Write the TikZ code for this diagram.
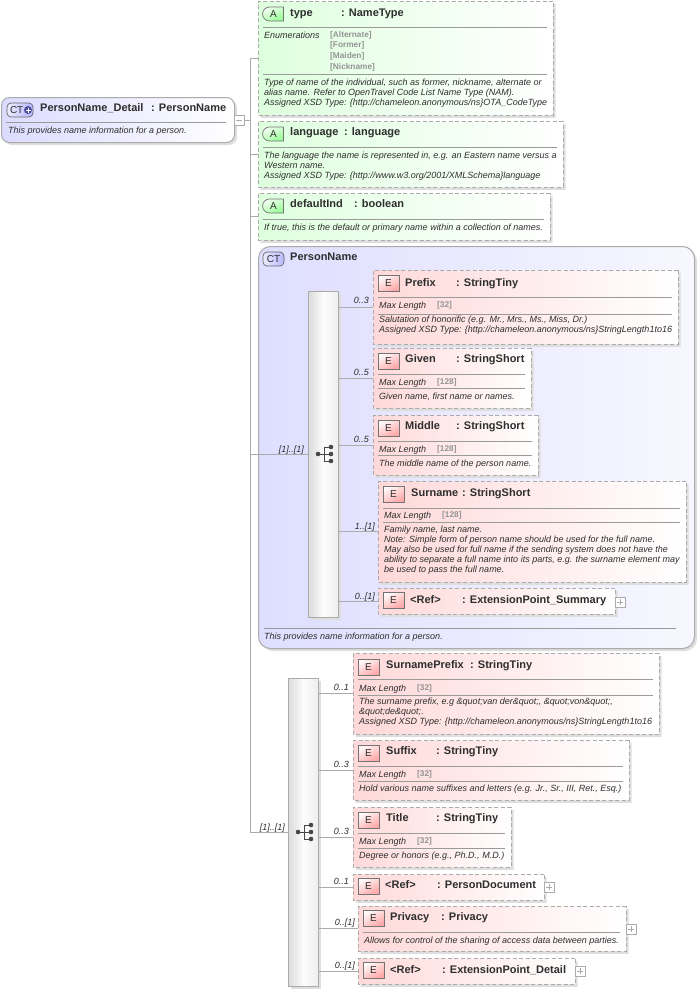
\documentclass[tikz,border=0pt]{standalone}
\usepackage{fontspec}
\setmainfont{Liberation Sans}
\usetikzlibrary{shapes.misc,shadows}
\definecolor{dk}{HTML}{2E2E2E}
\definecolor{gr}{HTML}{ABABAB}
\definecolor{sp}{HTML}{9A9A9A}
\newcounter{tn}
\tikzset{
  softshadow/.style={general shadow={shadow xshift=2.5pt,shadow yshift=-2.5pt,fill=black!13}},
  chbox/.style={chamfered rectangle,chamfered rectangle xsep=3pt,chamfered rectangle ysep=3pt,draw=gr,line width=1pt,dash pattern=on 4pt off 2.5pt,inner sep=0pt,anchor=north west,softshadow},
  elembox/.style={chbox,left color=red!15,right color=white},
  attrbox/.style={chbox,left color=green!13,right color=white},
  rootbox/.style={rectangle,rounded corners=8pt,draw=gr,line width=1pt,inner sep=0pt,anchor=north west,left color=blue!14,right color=white,softshadow},
  ctbox/.style={rectangle,rounded corners=12pt,draw=gr,line width=1pt,inner sep=0pt,anchor=north west,left color=blue!13,right color=blue!3,softshadow},
  seqbox/.style={rectangle,draw=gr,line width=.7pt,inner sep=0pt,anchor=north west,left color=black!14,right color=black!7,middle color=black!1,softshadow},
  exbox/.style={rectangle,draw=gr,fill=white,line width=.7pt,minimum width=9.5pt,minimum height=9.5pt,inner sep=0pt,anchor=north west},
  eicon/.style={rectangle,draw=black!55,line width=.7pt,minimum width=21pt,minimum height=16pt,inner sep=0pt,bottom color=red!34,top color=red!2,shading angle=30,text=dk,font=\fontsize{10}{10}\selectfont},
  aicon/.style={rounded rectangle,rounded rectangle east arc=none,draw=black!55,line width=.7pt,minimum width=21pt,minimum height=14pt,inner sep=0pt,bottom color=green!40,top color=green!5,shading angle=30,text=dk,font=\fontsize{10}{10}\selectfont},
  cticon/.style={rectangle,rounded corners=4pt,draw=black!60,line width=.7pt,inner sep=0pt,left color=blue!8,right color=blue!28,text=dk,font=\fontsize{10}{10}\selectfont},
  conn/.style={draw=gr,line width=.8pt},
  sepline/.style={draw=sp,line width=.7pt},
  ttltext/.style={inner sep=0pt,anchor=base west,yshift=.7pt,text=dk,font=\fontsize{11}{11}\selectfont\bfseries},
  dsctext/.style={inner sep=0pt,anchor=north west,align=left,text=dk,font=\fontsize{9}{10}\selectfont\itshape},
  valtext/.style={inner sep=0pt,anchor=north west,align=left,text=black!42,font=\fontsize{8.3}{10.6}\selectfont\bfseries},
  lbltext/.style={inner sep=0pt,anchor=base east,text=dk,font=\fontsize{9}{10}\selectfont\itshape},
}
\newcommand\ttl[3]{\stepcounter{tn}\node[ttltext] (t\thetn) at (#1,#2) {#3};}
\newcommand\dsc[3]{\stepcounter{tn}\node[dsctext] (t\thetn) at (#1,#2-7) {\rule{0pt}{7pt}#3};}
\newcommand\val[3]{\stepcounter{tn}\node[valtext] (t\thetn) at (#1,#2-7) {\rule{0pt}{7pt}#3};}
\newcommand\lbl[3]{\stepcounter{tn}\node[lbltext] (t\thetn) at (#1,#2) {#3};}
\newcommand\sepl[2]{\coordinate (sy) at (0,#2); \draw[sepline] ([xshift=5pt]#1.west |- sy) -- ([xshift=-7pt]#1.east |- sy);}
% name x y w h
\newcommand\elem[5]{\node[elembox,minimum width=#4pt,minimum height=#5pt] (#1) at (#2,#3) {};}
\newcommand\attr[5]{\node[attrbox,minimum width=#4pt,minimum height=#5pt] (#1) at (#2,#3) {};}
\newcommand\eic[3]{\node[eicon] (#1i) at (#2+10.5,#3+8) {E};}
\newcommand\aic[3]{\node[aicon] (#1i) at (#2+10.5,#3+7) {A};}
\newcommand\expd[3]{\node[exbox] (#1) at (#2,#3) {}; \draw[gr,line width=.7pt] ([xshift=2pt]#1.west) -- ([xshift=-2pt]#1.east) ([yshift=2pt]#1.south) -- ([yshift=-2pt]#1.north);}
\newcommand\seqicon[2]{%
  \fill[black!72] (#1-6,#2) circle (2.3pt) (#1+7,#2-7) circle (2.3pt) (#1+7,#2) circle (2.3pt) (#1+7,#2+7) circle (2.3pt);
  \draw[black!72,line width=.9pt] (#1-6,#2) -- (#1+7,#2) (#1+7,#2-7) -- (#1,#2-7) -- (#1,#2+7) -- (#1+7,#2+7);}
\begin{document}
\begin{tikzpicture}[x=1pt,y=-1pt]
\useasboundingbox (0,0) rectangle (699,991);
% ---- root
\node[rootbox,minimum width=233pt,minimum height=45pt] (root) at (1,97) {};
\node[cticon,minimum width=26pt,minimum height=14pt,text width=24pt,align=left] (rooti) at (20,110) {\hspace{2pt}CT};
\fill[blue!45!black!70] (28,110) circle (4pt);
\draw[white,line width=1pt] (25.5,110) -- (30.5,110) (28,107.5) -- (28,112.5);
\ttl{40}{112}{PersonName\_Detail}\ttl{151}{112}{: PersonName}
\draw[sepline] (6,122) -- (226,122);
\dsc{8}{133}{This provides name information for a person.}
\node[exbox] (rootx) at (234,115) {};
\draw[gr,line width=.7pt] ([xshift=2pt]rootx.west) -- ([xshift=-2pt]rootx.east);
% ---- attributes
\attr{type}{258}{1}{295}{114}
\aic{type}{263}{7}
\ttl{290}{17}{type}\ttl{341}{17}{: NameType}
\sepl{type}{27}
\dsc{264}{38}{Enumerations}
\val{330}{37}{{[Alternate]}\\{[Former]}\\{[Maiden]}\\{[Nickname]}}
\sepl{type}{74}
\dsc{264}{85}{Type of name of the individual, such as former, nickname, alternate or\\alias name. Refer to OpenTravel Code List Name Type (NAM).\\Assigned XSD Type: \{http://chameleon.anonymous/ns\}OTA\_CodeType}
\attr{lang}{258}{121}{305}{66}
\aic{lang}{263}{127}
\ttl{290}{136}{language}\ttl{344}{136}{: language}
\sepl{lang}{147}
\dsc{264}{158}{The language the name is represented in, e.g. an Eastern name versus a\\Western name.\\Assigned XSD Type: \{http://www.w3.org/2001/XMLSchema\}language}
\attr{defi}{258}{193}{292}{47}
\aic{defi}{263}{199}
\ttl{290}{208}{defaultInd}\ttl{354}{208}{: boolean}
\sepl{defi}{219}
\dsc{264}{230}{If true, this is the default or primary name within a collection of names.}
% ---- PersonName complex type
\node[ctbox,minimum width=436pt,minimum height=402pt] (ct) at (258,246) {};
\node[cticon,minimum width=21pt,minimum height=14pt] (cti) at (273.5,259) {CT};
\ttl{290}{261}{PersonName}
\draw[sepline] (264,628) -- (676,628);
\dsc{264}{639}{This provides name information for a person.}
% ---- sequence 1
\node[seqbox,minimum width=30pt,minimum height=326pt] (seqa) at (308,291) {};
\seqicon{324}{454}
\elem{prefix}{373}{270}{305}{74}
\eic{prefix}{378}{275}
\ttl{405}{287}{Prefix}\ttl{456}{287}{: StringTiny}
\sepl{prefix}{297}
\dsc{379}{308}{Max Length}\val{437}{307}{[32]}
\sepl{prefix}{314}
\dsc{379}{322}{Salutation of honorific (e.g. Mr., Mrs., Ms., Miss, Dr.)\\Assigned XSD Type: \{http://chameleon.anonymous/ns\}StringLength1to16}
\elem{given}{373}{348}{158}{60}
\eic{given}{378}{353}
\ttl{405}{363}{Given}\ttl{456}{363}{: StringShort}
\sepl{given}{374}
\dsc{379}{385}{Max Length}\val{437}{384}{[128]}
\sepl{given}{388}
\dsc{379}{399}{Given name, first name or names.}
\elem{middle}{373}{415}{165}{60}
\eic{middle}{378}{420}
\ttl{405}{430}{Middle}\ttl{456}{430}{: StringShort}
\sepl{middle}{441}
\dsc{379}{452}{Max Length}\val{437}{451}{[128]}
\sepl{middle}{455}
\dsc{379}{466}{The middle name of the person name.}
\elem{surname}{378}{481}{308}{101}
\eic{surname}{383}{486}
\ttl{411}{497}{Surname}\ttl{462}{497}{: StringShort}
\sepl{surname}{508}
\dsc{384}{518}{Max Length}\val{442}{517}{[128]}
\sepl{surname}{522}
\dsc{384}{532}{Family name, last name.\\Note: Simple form of person name should be used for the full name.\\May also be used for full name if the sending system does not have the\\ability to separate a full name into its parts, e.g. the surname element may\\be used to pass the full name.}
\elem{extsum}{378}{588}{237}{26}
\eic{extsum}{383}{592}
\ttl{410}{604}{<Ref>}\ttl{462}{604}{: ExtensionPoint\_Summary}
\expd{extsumx}{615}{597}
% ---- sequence 2
\node[seqbox,minimum width=30pt,minimum height=308pt] (seqb) at (288,678) {};
\seqicon{304}{832}
\elem{snprefix}{353}{653}{306}{81}
\eic{snprefix}{358}{659}
\ttl{386}{669}{SurnamePrefix}\ttl{470}{669}{: StringTiny}
\sepl{snprefix}{679}
\dsc{359}{691}{Max Length}\val{417}{690}{[32]}
\sepl{snprefix}{695}
\dsc{359}{704}{The surname prefix, e.g \&quot;van der\&quot;, \&quot;von\&quot;,\\\&quot;de\&quot;.\\Assigned XSD Type: \{http://chameleon.anonymous/ns\}StringLength1to16}
\elem{suffix}{353}{740}{276}{60}
\eic{suffix}{358}{745}
\ttl{386}{755}{Suffix}\ttl{436}{755}{: StringTiny}
\sepl{suffix}{766}
\dsc{359}{777}{Max Length}\val{417}{776}{[32]}
\sepl{suffix}{781}
\dsc{359}{791}{Hold various name suffixes and letters (e.g. Jr., Sr., III, Ret., Esq.)}
\elem{title}{353}{807}{158}{60}
\eic{title}{358}{812}
\ttl{386}{822}{Title}\ttl{436}{822}{: StringTiny}
\sepl{title}{833}
\dsc{359}{844}{Max Length}\val{417}{843}{[32]}
\sepl{title}{848}
\dsc{359}{858}{Degree or honors (e.g., Ph.D., M.D.)}
\elem{persdoc}{353}{874}{191}{26}
\eic{persdoc}{358}{878}
\ttl{385}{889}{<Ref>}\ttl{437}{889}{: PersonDocument}
\expd{persdocx}{544}{882}
\elem{privacy}{358}{906}{268}{45}
\eic{privacy}{363}{910}
\ttl{390}{921}{Privacy}\ttl{441}{921}{: Privacy}
\sepl{privacy}{932}
\dsc{364}{943}{Allows for control of the sharing of access data between parties.}
\expd{privacyx}{626}{924}
\elem{extdet}{358}{958}{217}{26}
\eic{extdet}{363}{962}
\ttl{390}{974}{<Ref>}\ttl{442}{974}{: ExtensionPoint\_Detail}
\expd{extdetx}{575}{966}
% ---- connectors
\coordinate (trunk) at (250,119);
\coordinate (seqay) at (250,454);
\coordinate (seqby) at (250,832);
\draw[conn] (rootx.east) -- (rootx.east -| trunk);
\draw[conn] (type.west -| trunk) -- (seqby);
\draw[conn] (type.west) -- (type.west -| trunk);
\draw[conn] (lang.west) -- (lang.west -| trunk);
\draw[conn] (defi.west) -- (defi.west -| trunk);
\draw[conn] (seqay) -- (seqa.west |- seqay);
\draw[conn] (seqby) -- (seqb.west |- seqby);
\foreach \n in {prefix,given,middle,surname,extsum}{\draw[conn] (\n.west) -- (\n.west -| seqa.east);}
\foreach \n in {snprefix,suffix,title,persdoc,privacy,extdet}{\draw[conn] (\n.west) -- (\n.west -| seqb.east);}
% ---- connector labels
\lbl{304}{452}{[1]..[1]}
\lbl{285}{830}{[1]..[1]}
\lbl{369}{303}{0..3}\lbl{369}{375}{0..5}\lbl{369}{442}{0..5}\lbl{375}{529}{1..[1]}\lbl{375}{599}{0..[1]}
\lbl{349}{690}{0..1}\lbl{349}{767}{0..3}\lbl{349}{834}{0..3}\lbl{349}{884}{0..1}\lbl{355}{925}{0..[1]}\lbl{355}{968}{0..[1]}
\end{tikzpicture}
\end{document}
